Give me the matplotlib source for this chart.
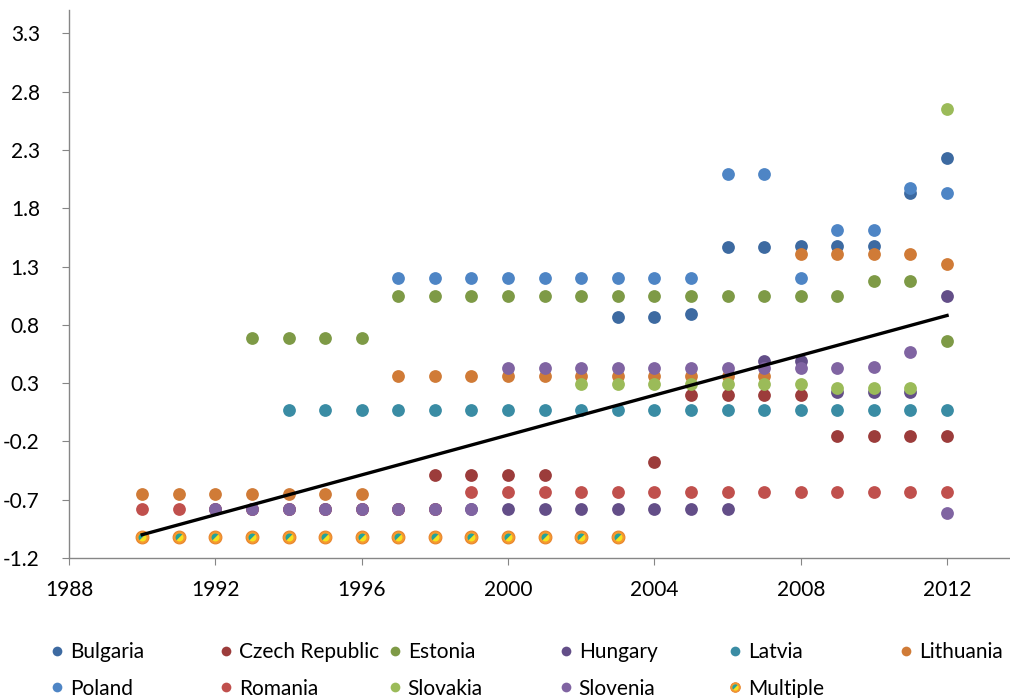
import matplotlib
matplotlib.use("Agg")
import matplotlib.pyplot as plt
from matplotlib.lines import Line2D
from matplotlib.markers import MarkerStyle
from matplotlib.transforms import Affine2D

plt.rcParams["font.family"] = ["Lato", "DejaVu Sans"]

# Values
bulgaria_years = [2003, 2004, 2005, 2006, 2007, 2008, 2009, 2010, 2011, 2012]
bulgaria_vals = [0.87, 0.87, 0.89, 1.47, 1.47, 1.48, 1.48, 1.48, 1.93, 2.23]

czech_years = [1998, 1999, 2000, 2001, 2004, 2005, 2006, 2007, 2008, 2009, 2010, 2011, 2012]
czech_vals = [-0.49, -0.49, -0.49, -0.49, -0.38, 0.20, 0.20, 0.20, 0.20, -0.15, -0.15, -0.15, -0.15]

estonia_years = [1993, 1994, 1995, 1996, 1997, 1998, 1999, 2000, 2001, 2002, 2003, 2004,
                 2005, 2006, 2007, 2008, 2009, 2010, 2011, 2012]
estonia_vals = [0.69, 0.69, 0.69, 0.69, 1.05, 1.05, 1.05, 1.05, 1.05, 1.05, 1.05, 1.05,
                1.05, 1.05, 1.05, 1.05, 1.05, 1.18, 1.18, 0.66]

hungary_years = [1992, 1993, 1994, 1995, 1996, 1997, 1998, 1999, 2000, 2001, 2002, 2003,
                 2004, 2005, 2006, 2007, 2008, 2009, 2010, 2011, 2012]
hungary_vals = [-0.78, -0.78, -0.78, -0.78, -0.78, -0.78, -0.78, -0.78, -0.78, -0.78, -0.78, -0.78,
                -0.78, -0.78, -0.78, 0.49, 0.49, 0.22, 0.22, 0.22, 1.05]

latvia_years = [1994, 1995, 1996, 1997, 1998, 1999, 2000, 2001, 2002, 2003, 2004, 2005,
                2006, 2007, 2008, 2009, 2010, 2011, 2012]
latvia_vals = [0.07, 0.07, 0.07, 0.07, 0.07, 0.07, 0.07, 0.07, 0.07, 0.07, 0.07, 0.07,
               0.07, 0.07, 0.07, 0.07, 0.07, 0.07, 0.07]

lithuania_years = [1990, 1991, 1992, 1993, 1994, 1995, 1996, 1997, 1998, 1999, 2000, 2001,
                   2002, 2003, 2004, 2005, 2006, 2007, 2008, 2009, 2010, 2011, 2012]
lithuania_vals = [-0.65, -0.65, -0.65, -0.65, -0.65, -0.65, -0.65, 0.36, 0.36, 0.36, 0.36, 0.36,
                  0.36, 0.36, 0.36, 0.36, 0.36, 0.36, 1.41, 1.41, 1.41, 1.41, 1.32]

poland_years = [1997, 1998, 1999, 2000, 2001, 2002, 2003, 2004, 2005, 2006, 2007, 2008,
                2009, 2010, 2011, 2012]
poland_vals = [1.20, 1.20, 1.20, 1.20, 1.20, 1.20, 1.20, 1.20, 1.20, 2.09, 2.09, 1.20,
               1.61, 1.61, 1.97, 1.93]

romania_years = [1990, 1991, 1992, 1993, 1994, 1995, 1996, 1997, 1998, 1999, 2000, 2001,
                 2002, 2003, 2004, 2005, 2006, 2007, 2008, 2009, 2010, 2011, 2012]
romania_vals = [-0.78, -0.78, -0.78, -0.78, -0.78, -0.78, -0.78, -0.78, -0.78, -0.63, -0.63, -0.63,
                -0.63, -0.63, -0.63, -0.63, -0.63, -0.63, -0.63, -0.63, -0.63, -0.63, -0.63]

slovakia_years = [2002, 2003, 2004, 2005, 2006, 2007, 2008, 2009, 2010, 2011, 2012]
slovakia_vals = [0.29, 0.29, 0.29, 0.29, 0.29, 0.29, 0.29, 0.26, 0.26, 0.26, 2.65]

slovenia_years = [1992, 1993, 1994, 1995, 1996, 1997, 1998, 1999, 2000, 2001, 2002, 2003,
                  2004, 2005, 2006, 2007, 2008, 2009, 2010, 2011, 2012]
slovenia_vals = [-0.78, -0.78, -0.78, -0.78, -0.78, -0.78, -0.78, -0.78, 0.43, 0.43, 0.43, 0.43,
                 0.43, 0.43, 0.43, 0.43, 0.43, 0.43, 0.44, 0.57, -0.81]

multiple_years = [1990, 1991, 1992, 1993, 1994, 1995, 1996, 1997, 1998, 1999, 2000, 2001, 2002, 2003]
multiple_vals = [-1.02, -1.02, -1.02, -1.02, -1.02, -1.02, -1.02, -1.02, -1.02, -1.02, -1.02, -1.02,
                 -1.02, -1.02]

trend_years = [1990, 2012]
trend_vals = [-1.00, 0.88]

countries = ["Bulgaria", "Czech Republic", "Estonia", "Hungary", "Latvia", "Lithuania",
             "Poland", "Romania", "Slovakia", "Slovenia"]
colours = ["#3D6AA1", "#9C3C3B", "#7E9A46", "#634E88", "#3A8CA4", "#D07B37",
           "#4E85C5", "#C0504D", "#9BBB59", "#8064A2"]
series = [(bulgaria_years, bulgaria_vals), (czech_years, czech_vals),
          (estonia_years, estonia_vals), (hungary_years, hungary_vals),
          (latvia_years, latvia_vals), (lithuania_years, lithuania_vals),
          (poland_years, poland_vals), (romania_years, romania_vals),
          (slovakia_years, slovakia_vals), (slovenia_years, slovenia_vals)]

fig = plt.figure(figsize=(10.1, 6.98), dpi=100)
ax = fig.add_axes([69 / 1010, 1 - 558 / 698, 1 - 69 / 1010, (558 - 10) / 698])

MS = 9.2
handles = []
for name, col, (xs, ys) in zip(countries, colours, series):
    ax.plot(xs, ys, "o", ms=MS, color=col, mec="none", zorder=3)
    handles.append(Line2D([], [], ls="none", marker="o", ms=7, color=col, mec="none"))

# "Multiple" marker: orange disc with a two-tone inner half-split disc
split = MarkerStyle("o", fillstyle="left", transform=Affine2D().rotate_deg(-45))
ax.plot(multiple_years, multiple_vals, "o", ms=MS, mfc="#F59A2E", mec="#E8852C", mew=0.8, zorder=4)
ax.plot(multiple_years, multiple_vals, ls="none", marker=split, ms=MS * 0.62,
        mfc="#22A39A", mfcalt="#F3E31E", mec="none", zorder=5)
m_base = Line2D([], [], ls="none", marker="o", ms=7, mfc="#F59A2E", mec="#E8852C", mew=0.6)
m_top = Line2D([], [], ls="none", marker=split, ms=4.5, mfc="#22A39A", mfcalt="#F3E31E", mec="none")
handles.append((m_base, m_top))

ax.plot(trend_years, trend_vals, color="black", lw=2.4, zorder=6)

ax.set_xlim(1988, 2013.72)
ax.set_ylim(-1.2, 3.5)
ax.set_xticks([1988, 1992, 1996, 2000, 2004, 2008, 2012])
ax.set_yticks([-1.2, -0.7, -0.2, 0.3, 0.8, 1.3, 1.8, 2.3, 2.8, 3.3])
ax.set_yticklabels(["-1.2", "-0.7", "-0.2", "0.3", "0.8", "1.3", "1.8", "2.3", "2.8", "3.3"])

for side in ["top", "right"]:
    ax.spines[side].set_visible(False)
for side in ["left", "bottom"]:
    ax.spines[side].set_color("#868686")
    ax.spines[side].set_linewidth(1.0)
ax.tick_params(axis="both", colors="#868686", labelcolor="black", labelsize=15, length=5)
ax.tick_params(axis="y", pad=16)
ax.tick_params(axis="x", pad=11)

# Legend: one small legend per column, laid out like the original
labels = countries + ["Multiple"]
col_x = [57, 226, 395, 566, 735, 906]
for i, x in enumerate(col_x):
    idx = [j for j in (i, i + 6) if j < len(labels)]
    leg = fig.legend([handles[j] for j in idx], [labels[j] for j in idx],
                     loc="upper left", bbox_to_anchor=((x - 6) / 1010, 1 - 642 / 698),
                     frameon=False, fontsize=15, handlelength=0.6, handletextpad=0.3,
                     borderpad=0, borderaxespad=0, labelspacing=0.8)

fig.savefig("out.png", dpi=100)
